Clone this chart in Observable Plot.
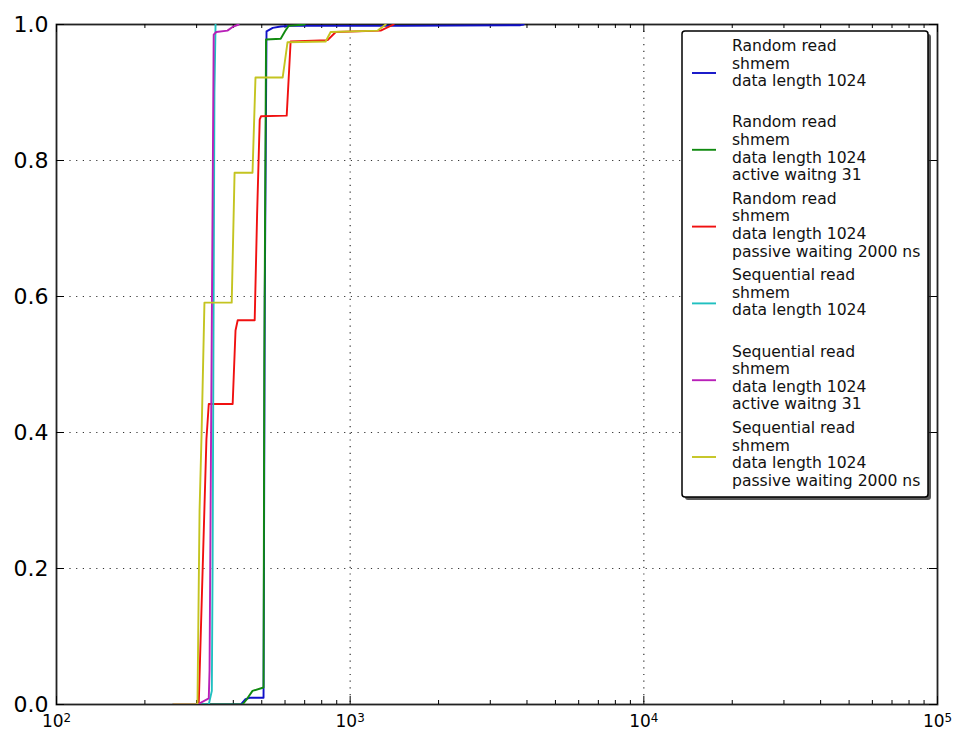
<!DOCTYPE html>
<html><head><meta charset="utf-8">
<script src="https://cdn.jsdelivr.net/npm/d3@7"></script>
<script src="https://cdn.jsdelivr.net/npm/@observablehq/plot@0.6"></script>
<style>body{margin:0;background:#fff}</style>
</head><body><div id="chart"></div>
<script>
// ---- Data ----
const xTicks = [100, 1000, 10000, 100000];
const yTicks = [0, 0.2, 0.4, 0.6, 0.8, 1.0];
const gridX = [1000, 10000];
const gridY = [0.2, 0.4, 0.6, 0.8];
const minorX = [200,300,400,500,600,700,800,900,2000,3000,4000,5000,6000,7000,8000,9000,20000,30000,40000,50000,60000,70000,80000,90000];

const seriesNames = [
  "Random read\nshmem\ndata length 1024\n",
  "Random read\nshmem\ndata length 1024\nactive waitng 31",
  "Random read\nshmem\ndata length 1024\npassive waiting 2000 ns",
  "Sequential read\nshmem\ndata length 1024\n",
  "Sequential read\nshmem\ndata length 1024\nactive waitng 31",
  "Sequential read\nshmem\ndata length 1024\npassive waiting 2000 ns"
];
const seriesColors = ["#1010c8", "#108a10", "#f01010", "#20c0c0", "#b820b8", "#c4c420"];

const randomX = [250, 424, 440, 458, 507, 512, 519, 545, 580, 620, 1500, 3800, 3900];
const randomY = [0, 0, 0.008, 0.01, 0.01, 0.6, 0.99, 0.995, 0.997, 0.998, 0.998, 0.999, 1.0];

const randomActiveX = [250, 430, 445, 465, 507, 510, 517, 580, 600, 617, 700];
const randomActiveY = [0, 0, 0.008, 0.02, 0.025, 0.5, 0.978, 0.979, 0.99, 0.998, 1.0];

const randomPassiveX = [250, 305, 324, 330, 398, 407, 414, 473, 482, 492, 497, 608, 627, 838, 893, 1270, 1406];
const randomPassiveY = [0, 0, 0.39, 0.442, 0.442, 0.55, 0.565, 0.565, 0.72, 0.86, 0.865, 0.866, 0.975, 0.977, 0.989, 0.991, 1.0];

const seqX = [250, 330, 338, 340, 345, 348];
const seqY = [0, 0, 0.02, 0.2, 0.9, 1.0];

const seqActiveX = [250, 302, 330, 332, 343, 350, 382, 400, 417];
const seqActiveY = [0, 0, 0.009, 0.05, 0.985, 0.989, 0.991, 0.997, 1.0];

const seqPassiveX = [250, 302, 307, 312, 319, 395, 404, 465, 476, 589, 612, 825, 858, 1241, 1321];
const seqPassiveY = [0, 0, 0.285, 0.4, 0.591, 0.591, 0.782, 0.782, 0.922, 0.922, 0.974, 0.975, 0.989, 0.991, 1.0];

const seriesXs = [randomX, randomActiveX, randomPassiveX, seqX, seqActiveX, seqPassiveX];
const seriesYs = [randomY, randomActiveY, randomPassiveY, seqY, seqActiveY, seqPassiveY];

// ---- Layout ----
const W = 954, H = 729, mL = 56, mR = 17, mT = 24, mB = 25;
const innerW = W - mL - mR, innerH = H - mT - mB;

const rows = seriesXs.flatMap((xs, s) => xs.map((x, i) => ({s, x, y: seriesYs[s][i]})));

const tickStyle = {stroke: "black", strokeWidth: 1};
const gridStyle = {stroke: "#333", strokeDasharray: "1.2,5.5", strokeWidth: 1.2};

const chart = Plot.plot({
  width: W, height: H,
  marginLeft: mL, marginRight: mR, marginTop: mT, marginBottom: mB,
  style: {fontFamily: "DejaVu Sans", background: "white", color: "black", overflow: "visible"},
  x: {type: "log", domain: [100, 100000]},
  y: {domain: [0, 1]},
  marks: [
    Plot.ruleX(gridX, gridStyle),
    Plot.ruleY(gridY, gridStyle),
    Plot.frame({stroke: "#222", strokeWidth: 1.8}),
    Plot.ruleX(xTicks, {...tickStyle, insetTop: innerH - 8}),
    Plot.ruleX(xTicks, {...tickStyle, insetBottom: innerH - 8}),
    Plot.ruleX(minorX, {...tickStyle, insetTop: innerH - 4}),
    Plot.ruleX(minorX, {...tickStyle, insetBottom: innerH - 4}),
    Plot.ruleY(yTicks, {...tickStyle, insetRight: innerW - 8}),
    Plot.ruleY(yTicks, {...tickStyle, insetLeft: innerW - 8}),
    ...seriesNames.map((n, s) => Plot.line(rows.filter(d => d.s === s), {
      x: "x", y: "y", stroke: seriesColors[s], strokeWidth: 1.9, clip: true
    })),
    Plot.axisX({ticks: xTicks, tickSize: 0, tickPadding: 10, fontSize: 17, label: null,
      tickFormat: d => String(Math.round(Math.log10(d)))}),
    Plot.axisY({ticks: yTicks, tickSize: 0, tickPadding: 8, fontSize: 22, label: null,
      tickFormat: d3.format(".1f")})
  ]
});

document.getElementById("chart").appendChild(chart);
const svg = d3.select(chart);

// superscript exponents on x tick labels
svg.selectAll('g[aria-label="x-axis tick label"] text').each(function() {
  const t = d3.select(this);
  const e = t.text();
  t.text("10");
  t.append("tspan").attr("dy", "-0.4em").attr("font-size", "70%").text(e);
});

// ---- Legend ----
const lg = svg.append("g").attr("font-family", "DejaVu Sans").attr("font-size", 15.6)
  .attr("text-anchor", "start");
const bx = 682, by = 31, bw = 246, bh = 466;
lg.append("rect").attr("x", bx + 3).attr("y", by + 3).attr("width", bw).attr("height", bh)
  .attr("rx", 3).attr("fill", "#222").attr("opacity", 0.75);
lg.append("rect").attr("x", bx).attr("y", by).attr("width", bw).attr("height", bh)
  .attr("rx", 3).attr("fill", "white").attr("stroke", "black").attr("stroke-width", 1.5);
seriesNames.forEach((name, i) => {
  const hy = 73 + i * 76.8;
  lg.append("line").attr("x1", 692).attr("x2", 716).attr("y1", hy).attr("y2", hy)
    .attr("stroke", seriesColors[i]).attr("stroke-width", 1.9);
  const t = lg.append("text").attr("fill", "#111").attr("text-anchor", "start");
  name.split("\n").forEach((line, j) => {
    if (!line) return;
    t.append("tspan").attr("x", 732).attr("y", 51 + i * 76.4 + j * 17.6).text(line);
  });
});
</script>
</body></html>
